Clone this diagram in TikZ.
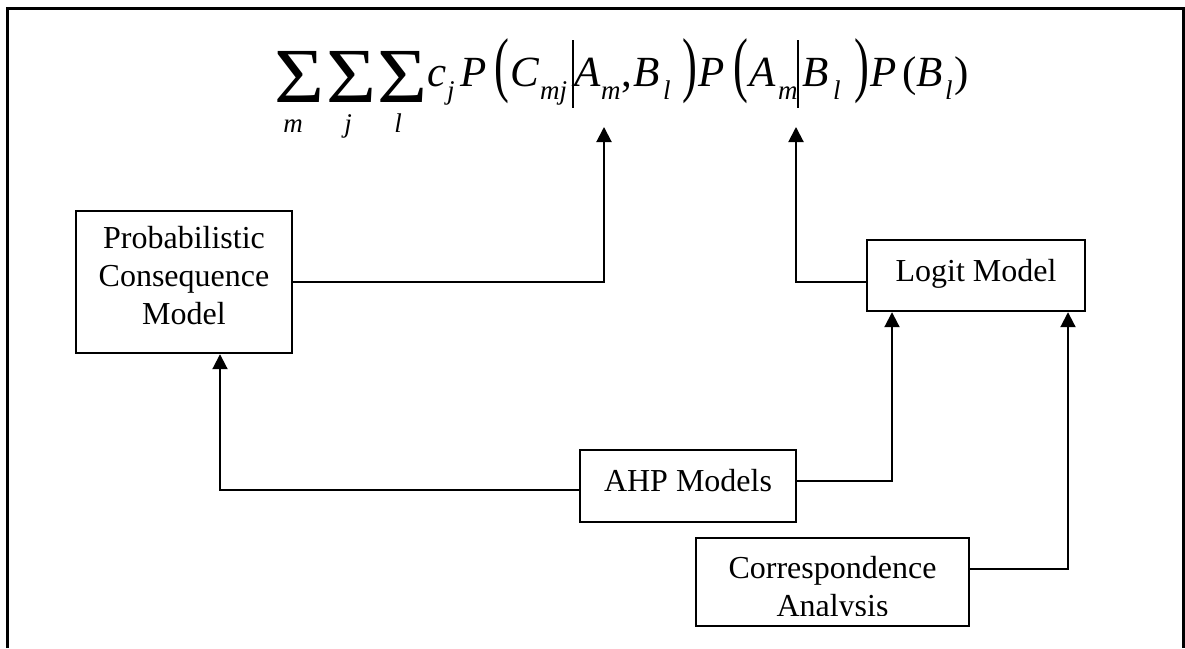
\documentclass[tikz,border=0pt]{standalone}
\usepackage{fontspec}
\setmainfont{Liberation Serif}
\usepackage{graphicx}
\usetikzlibrary{arrows.meta}
\tikzset{
  box/.style={draw, line width=2.4pt, inner sep=0pt},
  lbl/.style={inner sep=0pt, anchor=base, font=\fontsize{32}{38}\selectfont},
  conn/.style={line width=2pt, -{Triangle[width=15pt,length=15pt]}},
  fm/.style={inner sep=0pt, anchor=base west, font=\fontsize{43}{43}\selectfont\itshape},
  fmu/.style={inner sep=0pt, anchor=base west, font=\fontsize{43}{43}\selectfont},
  fs/.style={inner sep=0pt, anchor=base west, font=\fontsize{27}{27}\selectfont\itshape},
  fsc/.style={inner sep=0pt, anchor=base, font=\fontsize{27}{27}\selectfont\itshape},
  fsig/.style={inner sep=0pt, anchor=base west, font=\fontsize{78}{78}\selectfont},
  fbig/.style={inner sep=0pt, anchor=base west, font=\fontsize{72}{72}\selectfont},
  bar/.style={line width=1.4pt},
  frame/.style={line width=3pt},
}
\newcommand{\bigparen}[1]{\scalebox{0.62}[1]{#1}}
\newcommand{\widesig}{\scalebox{1.1}[1]{Σ}}
\begin{document}
\begin{tikzpicture}[x=1pt,y=-1pt]
\useasboundingbox (0,0) rectangle (1185,648);
\draw[frame] (7,648) -- (7,8) -- (1183,8) -- (1183,648);

% formula
\node[fsig] (s1) at (274,102) {\widesig};
\node[fsig] (s2) at (326,102) {\widesig};
\node[fsig] (s3) at (377,102) {\widesig};
\node[fsc] (sm) at (293,132) {m};
\node[fsc] (sj) at (348,132) {j};
\node[fsc] (sl) at (398,132) {l};
\node[fm] (c) at (427,86) {c};
\node[fs] (cj) at (447,99) {j};
\node[fm] (p1) at (460,86) {P};
\node[fbig] (lp1) at (494,88) {\bigparen{(}};
\node[fm] (cc) at (510,86) {C};
\node[fs] (cmj) at (540,99) {mj};
\draw[bar] (573,40) -- (573,108);
\node[fm] (a1) at (574,86) {A};
\node[fs] (a1m) at (601,99) {m};
\node[fmu] (comma) at (621,86) {,};
\node[fm] (b1) at (633,86) {B};
\node[fs] (b1l) at (663,99) {l};
\node[fbig] (rp1) at (682,88) {\bigparen{)}};
\node[fm] (p2) at (698,86) {P};
\node[fbig] (lp2) at (733,88) {\bigparen{(}};
\node[fm] (a2) at (749,86) {A};
\node[fs] (a2m) at (778,99) {m};
\draw[bar] (798,40) -- (798,108);
\node[fm] (b2) at (802,86) {B};
\node[fs] (b2l) at (833,99) {l};
\node[fbig] (rp2) at (854,88) {\bigparen{)}};
\node[fm] (p3) at (870,86) {P};
\node[fmu] (lp3) at (902,86) {(};
\node[fm] (b3) at (916,86) {B};
\node[fs] (b3l) at (945,99) {l};
\node[fmu] (rp3) at (954,86) {)};

% boxes
\node[box, minimum width=216pt, minimum height=142pt] (pcm) at (184,282) {};
\node[lbl] (pcm1) at (184,248) {Probabilistic};
\node[lbl] (pcm2) at (184,286) {Consequence};
\node[lbl] (pcm3) at (184,324) {Model};

\node[box, minimum width=218pt, minimum height=71pt] (logit) at (976,275.5) {};
\node[lbl] (logitt) at (976,281) {Logit Model};

\node[box, minimum width=216pt, minimum height=72pt] (ahp) at (688,486) {};
\node[lbl] (ahpt) at (688,491) {AHP Models};

\node[box, minimum width=273pt, minimum height=88pt] (ca) at (832.5,582) {};
\node[lbl] (ca1) at (832.5,578) {Correspondence};
\begin{scope}
\clip (700,590) rectangle (965,615);
\node[lbl] (ca2) at (832.5,616) {Analysis};
\end{scope}

% connectors
\coordinate (t1) at (604,127);
\coordinate (t2) at (796,127);
\draw[conn] (pcm.east) -| (t1);
\draw[conn] ([yshift=-6.5pt]logit.west) -| (t2);
\draw[conn] ([yshift=-4pt]ahp.west) -| ([xshift=36pt]pcm.south);
\draw[conn] ([yshift=5pt]ahp.east) -| ([xshift=-84pt]logit.south);
\draw[conn] ([yshift=13pt]ca.east) -| ([xshift=92pt]logit.south);
\end{tikzpicture}
\end{document}
